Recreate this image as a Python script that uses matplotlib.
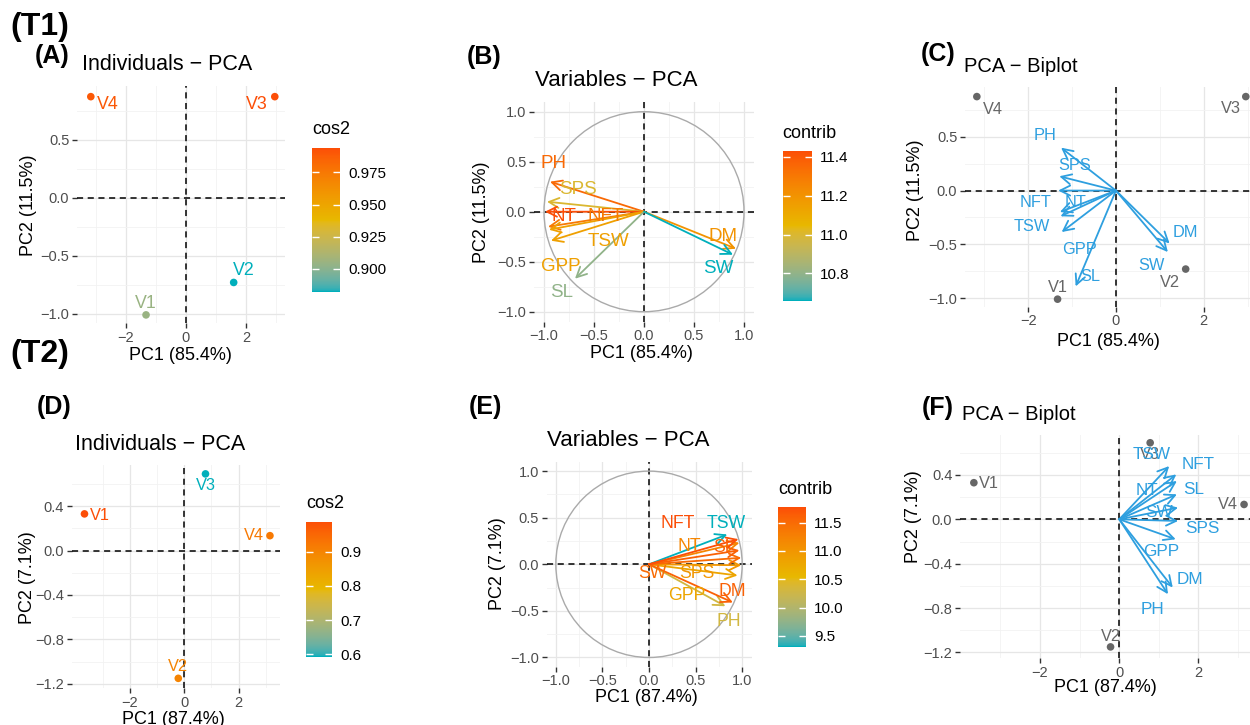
import matplotlib
matplotlib.use("Agg")
import matplotlib.pyplot as plt
from matplotlib.colors import ListedColormap, Normalize, to_rgb
from matplotlib.cm import ScalarMappable
from matplotlib.patches import Circle
import numpy as np

plt.rcParams["font.family"] = ["Liberation Sans", "DejaVu Sans"]

W, H = 1250, 725

# ---- data ----
ind_names = ["V1", "V2", "V3", "V4"]
var_names = ["PH", "SPS", "NT", "NFT", "TSW", "GPP", "SL", "DM", "SW"]

# T1
t1_ind_x = [-1.33, 1.59, 2.96, -3.17]
t1_ind_y = [-1.01, -0.73, 0.874, 0.874]
t1_cos2 = [0.905, 0.882, 0.994, 0.990]

t1_var_x = [-0.94, -0.97, -0.99, -0.96, -0.95, -0.93, -0.69, 0.92, 0.89]
t1_var_y = [0.30, 0.10, 0.00, -0.15, -0.18, -0.29, -0.67, -0.37, -0.43]
t1_contrib = [11.35, 11.0, 11.43, 11.3, 11.15, 11.15, 10.8, 11.2, 10.66]
t1_var_lab_x = [-0.90, -0.66, -0.80, -0.38, -0.36, -0.83, -0.82, 0.79, 0.74]
t1_var_lab_y = [0.48, 0.22, -0.05, -0.05, -0.30, -0.55, -0.81, -0.25, -0.57]
t1_bi_lab_x = [-1.61, -0.94, -0.93, -1.83, -1.92, -0.84, -0.58, 1.59, 0.80]
t1_bi_lab_y = [0.51, 0.23, -0.11, -0.11, -0.33, -0.545, -0.80, -0.39, -0.70]
t1_bi_scale = 1.33

# T2
t2_ind_x = [-3.67, -0.22, 0.78, 3.15]
t2_ind_y = [0.33, -1.15, 0.69, 0.134]
t2_cos2 = [0.988, 0.90, 0.593, 0.92]

t2_var_x = [0.82, 0.99, 0.97, 0.96, 0.84, 0.95, 0.97, 0.90, 0.99]
t2_var_y = [-0.45, -0.01, 0.23, 0.27, 0.32, -0.12, 0.15, -0.41, 0.07]
t2_contrib = [10.3, 11.0, 11.2, 11.77, 9.31, 10.8, 11.6, 11.6, 11.5]
t2_var_lab_x = [0.86, 0.51, 0.43, 0.31, 0.825, 0.40, 0.80, 0.89, 0.036]
t2_var_lab_y = [-0.61, -0.096, 0.19, 0.44, 0.44, -0.34, 0.18, -0.29, -0.096]
t2_bi_lab_x = [0.84, 2.09, 0.69, 2.00, 0.82, 1.07, 1.87, 1.78, 1.01]
t2_bi_lab_y = [-0.81, -0.087, 0.26, 0.49, 0.58, -0.29, 0.27, -0.54, 0.063]
t2_bi_scale = 1.5

# label offsets (points) for individuals
t1_ind_off = [(0, 8.4), (7.2, 8.6), (-12.7, -5.3), (12, -5.3)]
t1_bi_off = [(0, 8.4), (-11.3, -9.6), (-10.8, -8.6), (11.5, -9)]
t2_ind_off = [(11.2, -1.2), (0, 8.4), (0.4, -8.2), (-11.3, 0)]
t2_bi_off = [(10.8, -0.7), (0, 7.2), (0, -8.4), (-11.5, 0)]

GRAD = ["#00AFBB", "#E7B800", "#FC4E07"]
BLUE = "#2E9FDF"
GREY = "#666666"
MINUS = "\u2212"


# gradient interpolated in Lab space, like ggplot's gradientn
WHITE = np.array([0.95047, 1.0, 1.08883])
M = np.array([[0.4124, 0.3576, 0.1805],
              [0.2126, 0.7152, 0.0722],
              [0.0193, 0.1192, 0.9505]])


def to_lab(rgb):
    c = np.asarray(rgb, float)
    lin = np.where(c <= 0.04045, c / 12.92, ((c + 0.055) / 1.055) ** 2.4)
    xyz = M @ lin / WHITE
    d = 6 / 29
    f = np.where(xyz > d ** 3, np.cbrt(xyz), xyz / (3 * d * d) + 4 / 29)
    return np.array([116 * f[1] - 16, 500 * (f[0] - f[1]), 200 * (f[1] - f[2])])


def from_lab(lab):
    L, a, b = lab
    fy = (L + 16) / 116
    f = np.array([fy + a / 500, fy, fy - b / 200])
    d = 6 / 29
    xyz = np.where(f > d, f ** 3, 3 * d * d * (f - 4 / 29)) * WHITE
    lin = np.linalg.solve(M, xyz)
    lin = np.clip(lin, 0, 1)
    c = np.where(lin <= 0.0031308, 12.92 * lin, 1.055 * lin ** (1 / 2.4) - 0.055)
    return np.clip(c, 0, 1)


labs = [to_lab(to_rgb(h)) for h in GRAD]
cols = []
for t in np.linspace(0, 1, 256):
    seg = min(int(t * 2), 1)
    u = t * 2 - seg
    cols.append(from_lab(labs[seg] * (1 - u) + labs[seg + 1] * u))
cmap = ListedColormap(cols)


def rect(l, t, r, b):
    return [l / W, 1 - b / H, (r - l) / W, (b - t) / H]


def ftext(fig, x, y, s, **kw):
    kw.setdefault("ha", "center")
    kw.setdefault("va", "center")
    fig.text(x / W, 1 - y / H, s, **kw)


def fmt_num(v, f):
    return (f % v).replace("-", MINUS)


def base_axes(fig, box, xlim, ylim, xmaj, xmin, ymaj, ymin, xfmt, yfmt):
    ax = fig.add_axes(rect(*box))
    ax.set_xlim(*xlim)
    ax.set_ylim(*ylim)
    ax.set_xticks(xmaj)
    ax.set_xticks(xmin, minor=True)
    ax.set_yticks(ymaj)
    ax.set_yticks(ymin, minor=True)
    ax.set_xticklabels([fmt_num(v, xfmt) for v in xmaj])
    ax.set_yticklabels([fmt_num(v, yfmt) for v in ymaj])
    ax.grid(True, which="major", color="#E6E6E6", lw=0.9)
    ax.grid(True, which="minor", color="#F2F2F2", lw=0.6)
    ax.set_axisbelow(True)
    for s in ax.spines.values():
        s.set_visible(False)
    ax.tick_params(which="major", length=3.5, width=1, color="#333333",
                   labelsize=10.5, labelcolor="#4D4D4D", pad=2)
    ax.tick_params(which="minor", length=0)
    ax.axhline(0, color="black", lw=1.1, ls=(0, (4, 3)), zorder=1.5)
    ax.axvline(0, color="black", lw=1.1, ls=(0, (4, 3)), zorder=1.5)
    return ax


def colorbar(fig, box, vals, ticks, fmt, title):
    cax = fig.add_axes(rect(*box))
    norm = Normalize(min(vals), max(vals))
    cb = fig.colorbar(ScalarMappable(norm=norm, cmap=cmap), cax=cax)
    cb.outline.set_visible(False)
    cb.set_ticks(ticks)
    cb.set_ticklabels([fmt % t for t in ticks])
    cax.tick_params(left=True, right=True, labelleft=False, labelright=True,
                    direction="in", length=5, width=1, colors="white",
                    labelcolor="black", labelsize=11, pad=6)
    ftext(fig, box[0], box[1] - 18, title, ha="left", fontsize=13)
    return norm


def arrow(ax, x, y, c):
    ax.annotate("", xy=(x, y), xytext=(0, 0),
                arrowprops=dict(arrowstyle="->,head_length=0.6,head_width=0.3",
                                color=c, lw=1.3, shrinkA=0, shrinkB=0,
                                mutation_scale=12), zorder=3)


def individuals(ax, xs, ys, cols, offs, fs):
    ax.scatter(xs, ys, s=30, c=cols, zorder=4, clip_on=False, linewidths=0)
    for n, x, y, c, o in zip(ind_names, xs, ys, cols, offs):
        ax.annotate(n, (x, y), xytext=o, textcoords="offset points",
                    ha="center", va="center", color=c, fontsize=fs,
                    annotation_clip=False)


fig = plt.figure(figsize=(12.5, 7.25), dpi=100)

ftext(fig, 40, 27, "(T1)", fontsize=23, fontweight="bold")
ftext(fig, 40, 354, "(T2)", fontsize=23, fontweight="bold")

PM_TICKS = [-1.0, -0.5, 0.0, 0.5, 1.0]
PM_MINOR = [-0.75, -0.25, 0.25, 0.75]

# ---------- T1 ----------
# (A)
axA = base_axes(fig, (77, 86, 285, 323), (-3.63, 3.3), (-1.08, 0.966),
                [-2, 0, 2], [-3, -1, 1, 3], [-1.0, -0.5, 0.0, 0.5],
                PM_MINOR, "%d", "%.1f")
nA = colorbar(fig, (312, 148, 340, 292), t1_cos2, [0.900, 0.925, 0.950, 0.975],
              "%.3f", "cos2")
individuals(axA, t1_ind_x, t1_ind_y, [cmap(nA(v)) for v in t1_cos2], t1_ind_off, 12.8)
ftext(fig, 52, 56, "(A)", fontsize=18, fontweight="bold")
ftext(fig, 82, 64, "Individuals \u2212 PCA", ha="left", fontsize=15.5)
ftext(fig, 180, 356, "PC1 (85.4%)", fontsize=13)
ftext(fig, 29, 205, "PC2 (11.5%)", fontsize=13, rotation=90)

# (B)
axB = base_axes(fig, (534, 101.7, 754, 321.7), (-1.1, 1.1), (-1.1, 1.1),
                PM_TICKS, PM_MINOR, PM_TICKS, PM_MINOR, "%.1f", "%.1f")
axB.add_patch(Circle((0, 0), 1, fill=False, color="#AAAAAA", lw=1.0, zorder=1.6))
nB = colorbar(fig, (782.7, 151, 812, 300.7), t1_contrib, [10.8, 11.0, 11.2, 11.4],
              "%.1f", "contrib")
for i, n in enumerate(var_names):
    c = cmap(nB(t1_contrib[i]))
    arrow(axB, t1_var_x[i], t1_var_y[i], c)
    axB.text(t1_var_lab_x[i], t1_var_lab_y[i], n, color=c, fontsize=13.5,
             ha="center", va="center", zorder=4)
ftext(fig, 484, 57, "(B)", fontsize=18, fontweight="bold")
ftext(fig, 535, 81, "Variables \u2212 PCA", ha="left", fontsize=16)
ftext(fig, 641, 353, "PC1 (85.4%)", fontsize=13)
ftext(fig, 482, 212, "PC2 (11.5%)", fontsize=13, rotation=90)

# (C)
axC = base_axes(fig, (965, 86.7, 1250, 306.7), (-3.44, 3.056), (-1.08, 0.966),
                [-2, 0, 2], [-3, -1, 1, 3], [-1.0, -0.5, 0.0, 0.5],
                PM_MINOR, "%d", "%.1f")
for i, n in enumerate(var_names):
    arrow(axC, t1_var_x[i] * t1_bi_scale, t1_var_y[i] * t1_bi_scale, BLUE)
    axC.text(t1_bi_lab_x[i], t1_bi_lab_y[i], n, color=BLUE, fontsize=11.8,
             ha="center", va="center", zorder=4)
individuals(axC, t1_ind_x, t1_ind_y, [GREY] * 4, t1_bi_off, 11.8)
ftext(fig, 938, 54, "(C)", fontsize=18, fontweight="bold")
ftext(fig, 964, 66, "PCA \u2212 Biplot", ha="left", fontsize=14.5)
ftext(fig, 1108, 342, "PC1 (85.4%)", fontsize=13)
ftext(fig, 916, 190, "PC2 (11.5%)", fontsize=13, rotation=90)

# ---------- T2 ----------
# (D)
axD = base_axes(fig, (71.7, 465, 280, 688), (-4.14, 3.52), (-1.237, 0.77),
                [-2, 0, 2], [-3, -1, 1, 3], [-1.2, -0.8, -0.4, 0.0, 0.4],
                [-1.0, -0.6, -0.2, 0.2, 0.6], "%d", "%.1f")
nD = colorbar(fig, (306, 521.7, 332.3, 656.7), t2_cos2, [0.6, 0.7, 0.8, 0.9],
              "%.1f", "cos2")
individuals(axD, t2_ind_x, t2_ind_y, [cmap(nD(v)) for v in t2_cos2], t2_ind_off, 11.8)
ftext(fig, 54, 407, "(D)", fontsize=18, fontweight="bold")
ftext(fig, 75, 445, "Individuals \u2212 PCA", ha="left", fontsize=15.5)
ftext(fig, 173, 719, "PC1 (87.4%)", fontsize=13)
ftext(fig, 27, 578, "PC2 (7.1%)", fontsize=13, rotation=90)

# (E)
axE = base_axes(fig, (546.5, 461.8, 751.5, 666.8), (-1.1, 1.1), (-1.1, 1.1),
                PM_TICKS, PM_MINOR, PM_TICKS, PM_MINOR, "%.1f", "%.1f")
axE.add_patch(Circle((0, 0), 1, fill=False, color="#AAAAAA", lw=1.0, zorder=1.6))
nE = colorbar(fig, (778.3, 507.3, 806, 646.7), t2_contrib,
              [9.5, 10.0, 10.5, 11.0, 11.5], "%.1f", "contrib")
for i in np.argsort(t2_contrib):
    c = cmap(nE(t2_contrib[i]))
    arrow(axE, t2_var_x[i], t2_var_y[i], c)
    axE.text(t2_var_lab_x[i], t2_var_lab_y[i], var_names[i], color=c, fontsize=12.7,
             ha="center", va="center", zorder=4)
ftext(fig, 485, 407, "(E)", fontsize=18, fontweight="bold")
ftext(fig, 547, 441, "Variables \u2212 PCA", ha="left", fontsize=16)
ftext(fig, 646, 698, "PC1 (87.4%)", fontsize=13)
ftext(fig, 497, 564, "PC2 (7.1%)", fontsize=13, rotation=90)

# (F)
axF = base_axes(fig, (960, 435, 1250, 658), (-4.02, 3.30), (-1.25, 0.76),
                [-2, 0, 2], [-3, -1, 1, 3], [-1.2, -0.8, -0.4, 0.0, 0.4],
                [-1.0, -0.6, -0.2, 0.2, 0.6], "%d", "%.1f")
for i, n in enumerate(var_names):
    arrow(axF, t2_var_x[i] * t2_bi_scale, t2_var_y[i] * t2_bi_scale, BLUE)
    axF.text(t2_bi_lab_x[i], t2_bi_lab_y[i], n, color=BLUE, fontsize=12.3,
             ha="center", va="center", zorder=4)
individuals(axF, t2_ind_x, t2_ind_y, [GREY] * 4, t2_bi_off, 11.8)
ftext(fig, 938, 408, "(F)", fontsize=18, fontweight="bold")
ftext(fig, 962, 414, "PCA \u2212 Biplot", ha="left", fontsize=14.5)
ftext(fig, 1105, 688, "PC1 (87.4%)", fontsize=13)
ftext(fig, 914, 517, "PC2 (7.1%)", fontsize=13, rotation=90)

fig.savefig("out.png", dpi=100)
